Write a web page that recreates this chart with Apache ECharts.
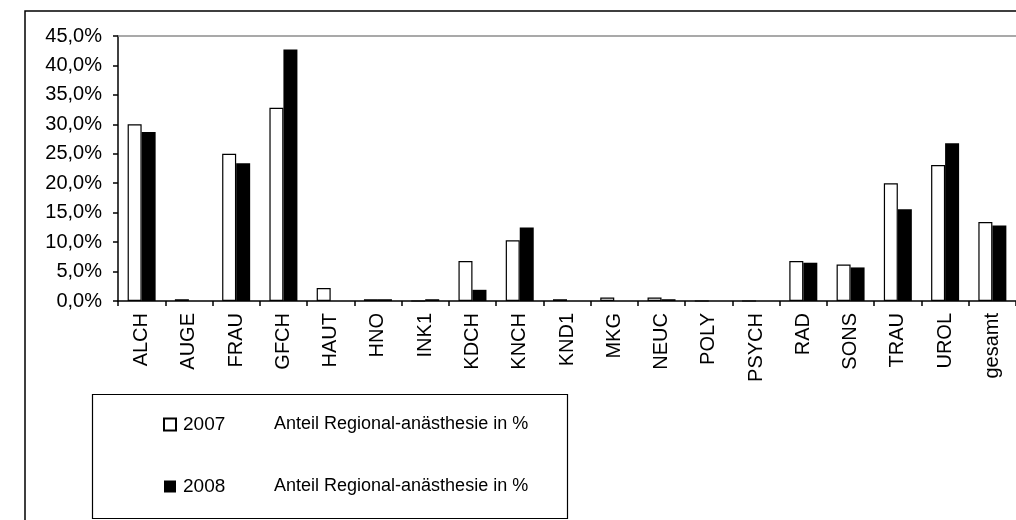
<!DOCTYPE html>
<html>
<head>
<meta charset="utf-8">
<title>Anteil Regionalanästhesie</title>
<script src="https://cdn.jsdelivr.net/npm/echarts@6/dist/echarts.min.js"></script>
<style>
    html, body { margin: 0; padding: 0; background: #fff; }
    #myChart { width: 1016px; height: 520px; }
</style>
</head>
<body>
<div id="myChart"></div>
<script>
// Fachabteilungen
var categories = ['ALCH', 'AUGE', 'FRAU', 'GFCH', 'HAUT', 'HNO', 'INK1', 'KDCH', 'KNCH', 'KND1',
    'MKG', 'NEUC', 'POLY', 'PSYCH', 'RAD', 'SONS', 'TRAU', 'UROL', 'gesamt']
// Anteil Regionalanästhesie in %
var values2007 = [30.0, 0.3, 25.0, 32.8, 2.2, 0.3, 0, 6.8, 10.3, 0.3, 0.6, 0.6, 0, 0, 6.8, 6.2, 20.0, 23.1, 13.4]
var values2008 = [28.7, 0, 23.4, 42.7, 0, 0.3, 0.3, 1.9, 12.5, 0, 0, 0.3, 0, 0, 6.5, 5.7, 15.6, 26.8, 12.8]
var yearNames = ['2007', '2008']
var seriesLabel = 'Anteil Regional-anästhesie in %'

var font = '"Liberation Sans", Arial, sans-serif'

var myChart = echarts.init(document.getElementById('myChart'))
var option = {
    animation: false,
    backgroundColor: '#fff',
    textStyle: { fontFamily: font, color: '#000' },
    // Rahmen + Legendenbox
    graphic: [
        {
            type: 'rect',
            shape: { x: 25, y: 11, width: 1100, height: 600 },
            style: { fill: 'none', stroke: '#000', lineWidth: 1.5 },
            silent: true
        },
        {
            type: 'rect',
            shape: { x: 92.5, y: 394.5, width: 475, height: 124 },
            style: { fill: 'none', stroke: '#000', lineWidth: 1.2 },
            silent: true
        }
    ],
    legend: {
        orient: 'vertical',
        left: 163,
        top: 415,
        padding: 0,
        itemWidth: 12,
        itemHeight: 12,
        itemGap: 43,
        icon: 'rect',
        data: yearNames,
        textStyle: {
            fontFamily: font,
            fontSize: 19,
            color: '#000',
            rich: {
                y: { width: 91, fontSize: 19, fontFamily: font, lineHeight: 22, padding: [0, 0, 0, 2] },
                t: { fontSize: 18, fontFamily: font, lineHeight: 22 }
            }
        },
        formatter: function(name) {
            return '{y|' + name + '}{t|' + seriesLabel + '}'
        }
    },
    grid: {
        left: 118,
        top: 36,
        width: 906,
        height: 265
    },
    xAxis: {
        type: 'category',
        data: categories,
        axisLine: { lineStyle: { color: '#000', width: 1.5 } },
        axisTick: { show: true, alignWithLabel: false, length: 5, lineStyle: { color: '#000', width: 1.5 } },
        axisLabel: {
            rotate: 90,
            margin: 12,
            fontSize: 20,
            fontFamily: font,
            color: '#000',
            interval: 0
        }
    },
    yAxis: {
        type: 'value',
        min: 0,
        max: 45,
        interval: 5,
        axisLine: { show: true, lineStyle: { color: '#000', width: 1.5 } },
        axisTick: { show: true, length: 5, lineStyle: { color: '#000', width: 1.5 } },
        splitLine: { show: false },
        axisLabel: {
            margin: 16,
            fontSize: 20,
            fontFamily: font,
            color: '#000',
            formatter: function(v) {
                return v.toFixed(1).replace('.', ',') + '%'
            }
        }
    },
    series: [
        {
            name: yearNames[0],
            type: 'bar',
            data: values2007,
            barWidth: 14,
            barGap: '0%',
            itemStyle: { color: '#fff', borderColor: '#000', borderWidth: 1.2 }
        },
        {
            name: yearNames[1],
            type: 'bar',
            data: values2008,
            barWidth: 14,
            barGap: '0%',
            itemStyle: { color: '#000', borderColor: '#000', borderWidth: 0 },
            // obere Begrenzung bei 45 %
            markLine: {
                silent: true,
                symbol: 'none',
                label: { show: false },
                lineStyle: { color: '#8c8c8c', width: 1.5, type: 'solid' },
                data: [{ yAxis: 45 }]
            }
        }
    ]
}
myChart.setOption(option)
</script>
</body>
</html>
